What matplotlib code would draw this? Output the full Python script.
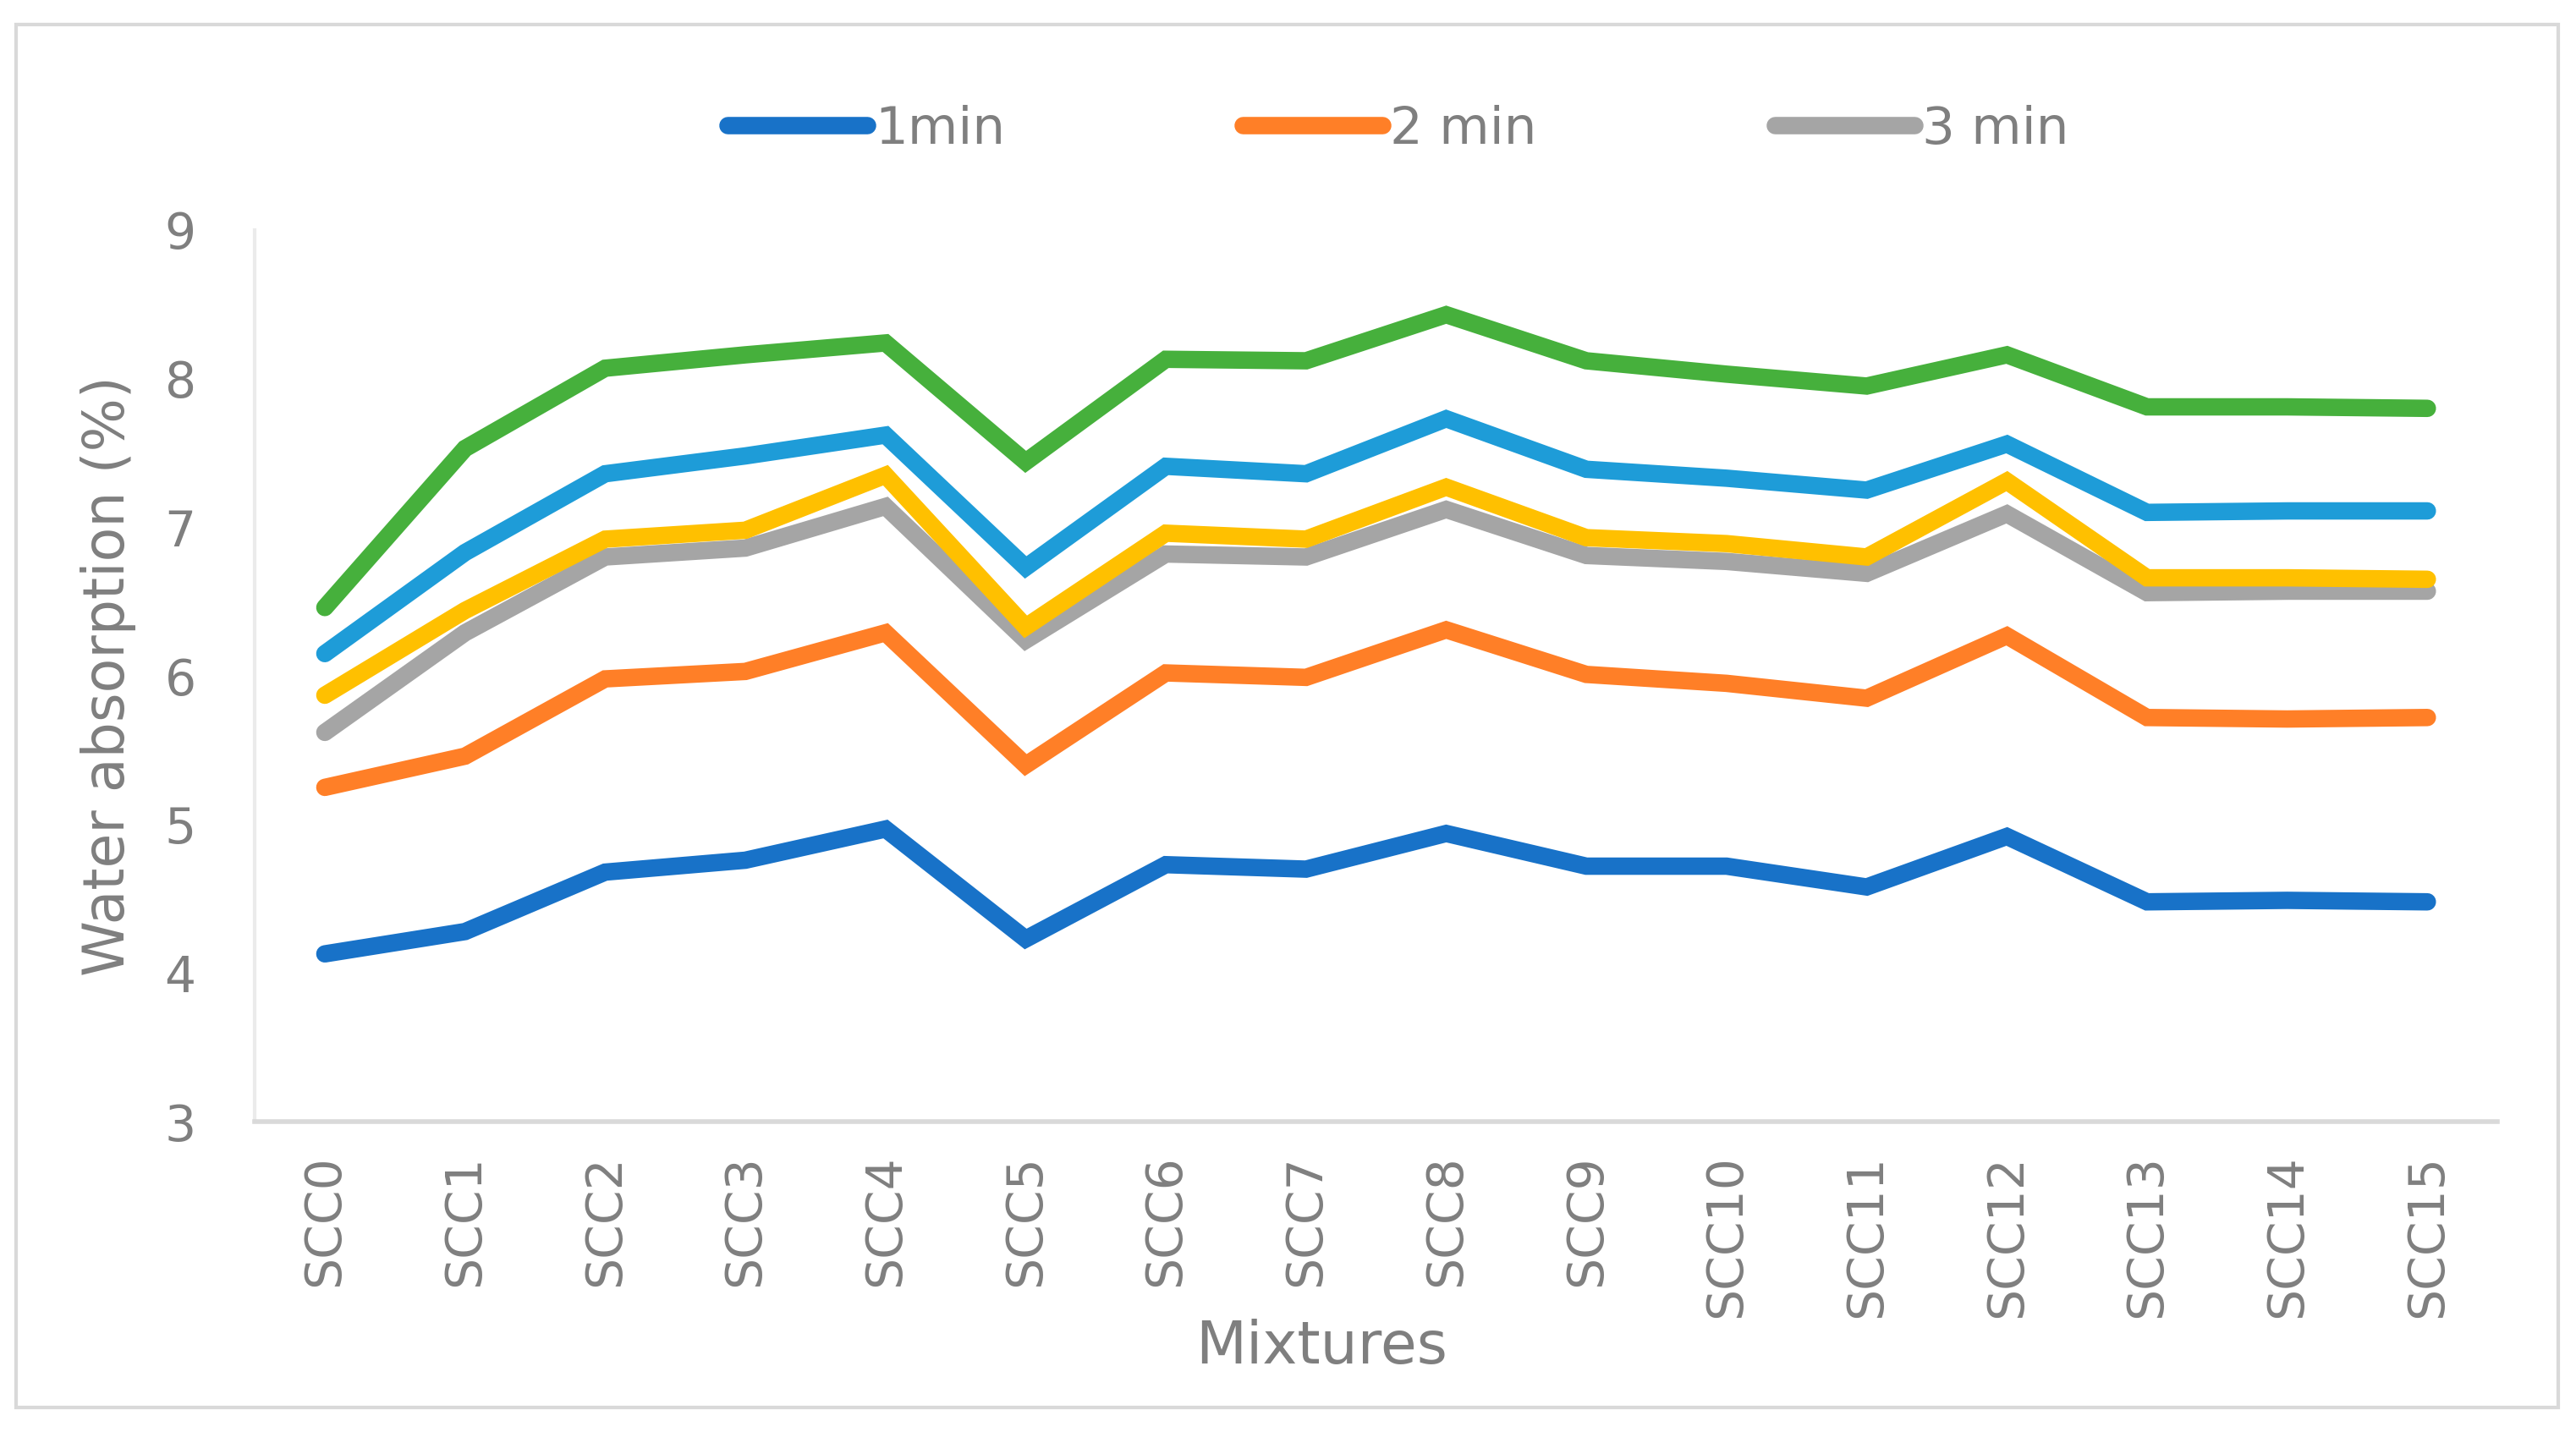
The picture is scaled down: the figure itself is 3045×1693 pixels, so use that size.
import matplotlib
matplotlib.use("Agg")
from matplotlib import pyplot as plt
from matplotlib.patches import Rectangle
import numpy as np

plt.rcParams['font.family'] = ['DejaVu Sans']

mixtures = ['SCC0', 'SCC1', 'SCC2', 'SCC3', 'SCC4', 'SCC5', 'SCC6', 'SCC7',
            'SCC8', 'SCC9', 'SCC10', 'SCC11', 'SCC12', 'SCC13', 'SCC14', 'SCC15']

min1 = [4.13, 4.28, 4.68, 4.76, 4.97, 4.23, 4.73, 4.70, 4.94, 4.72, 4.72, 4.58, 4.92, 4.48, 4.49, 4.48]
min2 = [5.25, 5.46, 5.98, 6.03, 6.29, 5.40, 6.02, 5.99, 6.31, 6.01, 5.95, 5.85, 6.27, 5.72, 5.71, 5.72]
min3 = [5.62, 6.29, 6.80, 6.86, 7.14, 6.24, 6.82, 6.80, 7.12, 6.81, 6.77, 6.69, 7.09, 6.56, 6.57, 6.57]
series4 = [5.87, 6.44, 6.92, 6.98, 7.35, 6.33, 6.96, 6.92, 7.27, 6.93, 6.89, 6.80, 7.31, 6.66, 6.66, 6.65]
series5 = [6.15, 6.83, 7.36, 7.48, 7.62, 6.73, 7.41, 7.36, 7.73, 7.39, 7.33, 7.25, 7.56, 7.10, 7.11, 7.11]
series6 = [6.46, 7.53, 8.07, 8.16, 8.24, 7.44, 8.13, 8.12, 8.43, 8.12, 8.03, 7.95, 8.16, 7.81, 7.81, 7.80]

series = [
    (min1, '1min', '#1872C8'),
    (min2, '2 min', '#FF7F27'),
    (min3, '3 min', '#A5A5A5'),
    (series4, '_nolegend_', '#FFC000'),
    (series5, '_nolegend_', '#1E9CD8'),
    (series6, '_nolegend_', '#46B03C'),
]

text_col = '#7F7F7F'

fig = plt.figure(figsize=(15.225, 8.465), dpi=200)
ax = fig.add_axes([0.0989, 0.2166, 0.8706, 0.6228])

x = np.arange(len(mixtures))
for vals, lab, col in series:
    ax.plot(x, vals, color=col, lw=7.4, label=lab,
            solid_capstyle='round', solid_joinstyle='miter')

ax.set_xlim(-0.5, len(mixtures) - 0.5)
ax.set_ylim(3, 9)
ax.set_yticks(range(3, 10))
ax.set_xticks(x)
ax.set_xticklabels(mixtures, rotation=90)
ax.tick_params(length=0, labelsize=21, colors=text_col)
ax.tick_params(axis='y', pad=25)
ax.tick_params(axis='x', pad=14)

for s in ['top', 'right']:
    ax.spines[s].set_visible(False)
ax.spines['left'].set_color('#EBEBEB')
ax.spines['left'].set_linewidth(1.5)
ax.spines['bottom'].set_color('#D9D9D9')
ax.spines['bottom'].set_linewidth(2)

ax.set_ylabel('Water absorption (%)', fontsize=24, color=text_col, labelpad=12)
ax.set_xlabel('Mixtures', fontsize=25, color=text_col)
ax.xaxis.label.set_va('center')
ax.xaxis.set_label_coords(0.4757, -0.252)

leg = fig.legend(loc='center', bbox_to_anchor=(0.5427, 0.9096), ncol=3, frameon=False,
                 fontsize=22, handlelength=2.7, handletextpad=0.15, columnspacing=4.6)
for t in leg.get_texts():
    t.set_color(text_col)

fig.patches.append(Rectangle((19 / 3045, 1 - 1664 / 1693), (3024 - 19) / 3045, (1664 - 29) / 1693,
                             transform=fig.transFigure, fill=False, edgecolor='#D9D9D9', lw=1.5))

fig.savefig('out.png', dpi=200, facecolor='white')
